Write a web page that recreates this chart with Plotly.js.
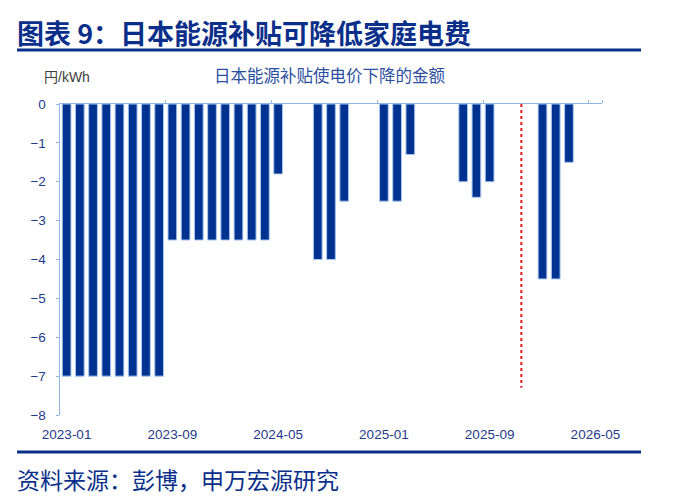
<!DOCTYPE html>
<html>
<head>
<meta charset="utf-8">
<script src="https://cdn.plot.ly/plotly-3.0.1.min.js"></script>
<style>html,body{margin:0;padding:0;background:#fff;}#chart{width:678px;height:502px;}</style>
</head>
<body>
<div id="chart"></div>
<script>
// ---- data ----
const months = [
  "2023-01","2023-02","2023-03","2023-04","2023-05","2023-06","2023-07","2023-08",
  "2023-09","2023-10","2023-11","2023-12","2024-01","2024-02","2024-03","2024-04",
  "2024-05","2024-06","2024-07","2024-08","2024-09","2024-10","2024-11","2024-12",
  "2025-01","2025-02","2025-03","2025-04","2025-05","2025-06","2025-07","2025-08",
  "2025-09","2025-10","2025-11","2025-12","2026-01","2026-02","2026-03","2026-04",
  "2026-05"
];
const subsidy = [
  -7,-7,-7,-7,-7,-7,-7,-7,
  -3.5,-3.5,-3.5,-3.5,-3.5,-3.5,-3.5,-3.5,
  -1.8,null,null,-4,-4,-2.5,null,null,
  -2.5,-2.5,-1.3,null,null,null,-2,-2.4,
  -2,null,null,null,-4.5,-4.5,-1.5,null,
  null
];
const tickLabels = ["2023-01","2023-09","2024-05","2025-01","2025-09","2026-05"];
const yTicks = [0,-1,-2,-3,-4,-5,-6,-7,-8];
const markerIndex = 34.4;   // red dotted divider (between 2025-11 and 2025-12)
const markerDepth = -7.3;

const navy = "#003391";
const axisBlue = "#8fb5e6";
const tickColor = "#1f3a8a";

const W = 678, H = 502;
const L = 60, R = 602, T = 104, B = 415;
const px = x => (x - L) / (R - L);
const py = y => (B - y) / (B - T);

const traces = [
  {
    type: "bar",
    x: months,
    y: subsidy,
    marker: {color: navy, line: {color: "#a9c6ee", width: 1}},
    hoverinfo: "x+y",
    xaxis: "x", yaxis: "y"
  },
  {
    type: "bar",
    x: months,
    y: months.map(() => null),
    xaxis: "x2", yaxis: "y",
    showlegend: false, hoverinfo: "skip"
  }
];

const layout = {
  width: W, height: H,
  margin: {l: L, r: W - R, t: T, b: H - B, pad: 0},
  paper_bgcolor: "#fff", plot_bgcolor: "#fff",
  showlegend: false,
  bargap: 0.34,
  font: {family: "Liberation Sans, Arial, Noto Sans CJK SC, sans-serif", color: tickColor},
  xaxis: {
    type: "category",
    categoryorder: "array", categoryarray: months,
    range: [-0.5, months.length - 0.5],
    tickmode: "array", tickvals: tickLabels, ticktext: tickLabels,
    ticks: "", showline: false, showgrid: false, zeroline: false,
    ticklabelstandoff: 9,
    tickfont: {size: 13.5, color: tickColor, family: "Liberation Sans, Arial, sans-serif"}
  },
  xaxis2: {
    type: "category",
    overlaying: "x", matches: "x", anchor: "y", side: "top",
    categoryorder: "array", categoryarray: months,
    range: [-0.5, months.length - 0.5],
    tickmode: "array", tickvals: tickLabels.slice(1),
    tickson: "boundaries",
    ticks: "outside", ticklen: 3, tickcolor: axisBlue, tickwidth: 1,
    showticklabels: false,
    showline: true, linecolor: axisBlue, linewidth: 1.5,
    showgrid: false, zeroline: false
  },
  yaxis: {
    range: [-8, 0],
    tickmode: "array", tickvals: yTicks,
    ticks: "outside", ticklen: 3, tickcolor: axisBlue, tickwidth: 1,
    ticklabelstandoff: 7,
    showline: true, linecolor: axisBlue, linewidth: 1.5,
    showgrid: false, zeroline: false,
    tickfont: {size: 13.5, color: tickColor, family: "Liberation Sans, Arial, sans-serif"}
  },
  shapes: [
    {type: "line", xref: "x", yref: "y", x0: markerIndex, x1: markerIndex, y0: 0, y1: markerDepth,
     line: {color: "#e31a1c", width: 2, dash: "dot"}},
    {type: "line", xref: "paper", yref: "paper", x0: px(17), x1: px(641), y0: py(50), y1: py(50),
     line: {color: "#0a2f8a", width: 3}},
    {type: "line", xref: "paper", yref: "paper", x0: px(17), x1: px(641), y0: py(452), y1: py(452),
     line: {color: "#0a2f8a", width: 3}}
  ],
  annotations: [
    {xref: "paper", yref: "paper", x: px(15), y: py(32), xanchor: "left", yanchor: "middle",
     showarrow: false, text: "<b>图表 9：日本能源补贴可降低家庭电费</b>",
     font: {family: "Noto Sans CJK SC", size: 27, color: "#0a2f8a"}},
    {xref: "paper", yref: "paper", x: px(330), y: py(75), xanchor: "center", yanchor: "middle",
     showarrow: false, text: "日本能源补贴使电价下降的金额",
     font: {family: "Noto Sans CJK SC", size: 16.5, color: "#2b4ea0"}},
    {xref: "paper", yref: "paper", x: px(42), y: py(77), xanchor: "left", yanchor: "middle",
     showarrow: false, text: "円/kWh",
     font: {family: "Liberation Sans, Noto Sans CJK JP", size: 14, color: "#404040"}},
    {xref: "paper", yref: "paper", x: px(15), y: py(479), xanchor: "left", yanchor: "middle",
     showarrow: false, text: "资料来源：彭博，申万宏源研究",
     font: {family: "Noto Sans CJK SC", size: 23, color: "#0a2f8a"}}
  ]
};

Plotly.newPlot("chart", traces, layout, {displayModeBar: false, staticPlot: true});
</script>
</body>
</html>
